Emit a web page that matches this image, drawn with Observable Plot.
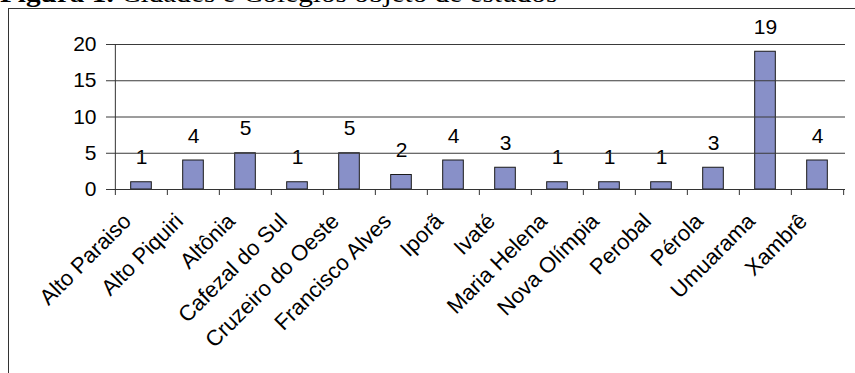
<!DOCTYPE html>
<html>
<head>
<meta charset="utf-8">
<script src="https://cdn.jsdelivr.net/npm/d3@7"></script>
<script src="https://cdn.jsdelivr.net/npm/@observablehq/plot@0.6"></script>
<style>
  html, body { margin: 0; padding: 0; background: #fff; overflow: hidden; width: 855px; height: 373px; }
  #wrap { position: relative; width: 855px; height: 373px; overflow: hidden; }
  #title { position: absolute; left: 0; top: -19px; font-family: "Liberation Serif", "Times New Roman", serif; font-size: 25px; line-height: 25px; white-space: nowrap; color: #000; transform: scaleX(1.17); transform-origin: 0 0; }
  #frame { position: absolute; left: 8px; top: 8px; width: 900px; height: 400px; border-left: 1px solid #333; border-top: 1px solid #333; }
  #chart { position: absolute; left: 0; top: 0; }
  #chart svg { overflow: visible; }
</style>
</head>
<body>
<div id="wrap">
  <div id="title"><b>Figura 1.</b> Cidades e Colégios objeto de estudos</div>
  <div id="frame"></div>
  <div id="chart"></div>
</div>
<script>
const categories = ["Alto Paraiso", "Alto Piquiri", "Altônia", "Cafezal do Sul", "Cruzeiro do Oeste", "Francisco Alves", "Iporã", "Ivaté", "Maria Helena", "Nova Olímpia", "Perobal", "Pérola", "Umuarama", "Xambrê"];
const values = [1, 4, 5, 1, 5, 2, 4, 3, 1, 1, 1, 3, 19, 4];
const yTicks = [0, 5, 10, 15, 20];

const data = categories.map((c, i) => ({cat: c, v: values[i]}));

const W = 855, H = 373, mL = 113, mR = 10, mT = 44, mB = 184;
const plotH = H - mT - mB;
const bw = (W - mL - mR) / categories.length;
const font = "'Liberation Sans', Arial, sans-serif";

const chart = Plot.plot({
  width: W,
  height: H,
  marginLeft: mL,
  marginRight: mR,
  marginTop: mT,
  marginBottom: mB,
  style: {fontFamily: font, fontSize: "21px", color: "#000", background: "transparent"},
  x: {type: "band", domain: categories, padding: 0, label: null},
  y: {type: "linear", domain: [0, 20], label: null},
  marks: [
    Plot.axisY({ticks: yTicks, tickSize: 0, tickPadding: 17, fontSize: 21, label: null}),
    Plot.barY(data, {x: "cat", y: "v", fill: "#8890c8", stroke: "#1a1a1a", strokeWidth: 1, insetLeft: bw * 0.3, insetRight: bw * 0.3}),
    Plot.text(data, {x: "cat", y: "v", text: d => String(d.v), lineAnchor: "bottom", dy: -18, fontSize: 21, fill: "#000"}),
    Plot.gridY(yTicks, {stroke: "#3a3a3a", strokeOpacity: 1, strokeWidth: 1, insetLeft: -7}),
    Plot.ruleX([categories[0]], {dx: -bw / 2, stroke: "#333"}),
    Plot.ruleY([0], {stroke: "#333"}),
    Plot.ruleX(categories, {x: d => d, dx: -bw / 2, stroke: "#333", insetTop: plotH, insetBottom: -6}),
    Plot.ruleX([categories[categories.length - 1]], {x: d => d, dx: bw / 2, stroke: "#333", insetTop: plotH, insetBottom: -6}),
    Plot.axisX({tickSize: 0, tickRotate: -45, fontSize: 22, tickPadding: 0, dy: 28, dx: -14, label: null})
  ]
});
document.getElementById("chart").appendChild(chart);
</script>
</body>
</html>
